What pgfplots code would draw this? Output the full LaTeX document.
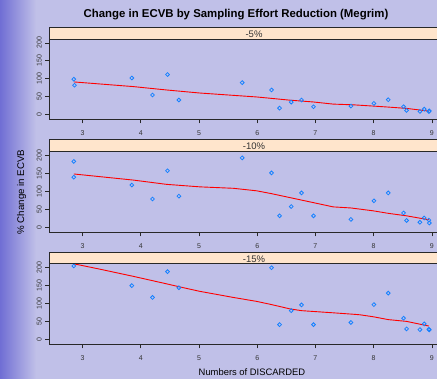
\documentclass[border=0pt]{standalone}
\usepackage{pgfplots}
\usepackage{pgfplotstable}
\pgfplotsset{compat=1.18}
\usepackage{fontspec}
\setmainfont{Liberation Sans}
\definecolor{bgcol}{RGB}{192,192,232}
\definecolor{gradcol}{RGB}{112,110,212}
\definecolor{stripcol}{RGB}{255,229,204}
\definecolor{ptcol}{RGB}{20,128,255}
\definecolor{framecol}{RGB}{40,40,40}

\pgfplotstableread{
x y
2.851 98.6
2.863 81.7
3.847 102
4.202 54.5
4.460 111.7
4.655 40.4
5.742 89
6.246 68.5
6.384 17.8
6.584 34.7
6.761 40.4
6.967 21.6
7.609 23.5
8.004 31
8.250 41.3
8.513 21.6
8.565 11.3
8.794 8.5
8.868 15
8.948 8.5
8.955 10
}\ptsA
\pgfplotstableread{
x y
2.851 184
2.851 140
3.847 118
4.202 79
4.460 158
4.655 87
5.742 194
6.246 152
6.384 32
6.584 58
6.761 96
6.967 32
7.609 22
8.004 74
8.250 96
8.513 40
8.565 19
8.794 14
8.868 26
8.948 20
8.955 12
}\ptsB
\pgfplotstableread{
x y
2.851 205
3.847 150
4.202 117
4.460 189
4.655 144
6.246 200
6.384 41
6.584 80
6.761 96
6.967 41
7.609 47
8.004 97
8.250 129
8.513 59
8.565 29
8.794 27
8.868 43
8.948 28
8.955 26
}\ptsC
\pgfplotstableread{
x y
2.851 91
3.870 78
4.443 68.5
5.015 60
5.588 53.5
5.988 49
6.246 45
6.561 40
6.962 35
7.305 29
7.649 27
7.992 23.5
8.250 20.7
8.565 17
8.948 9.4
}\lineA
\pgfplotstableread{
x y
2.851 149
3.870 132
4.443 120
5.015 113
5.588 109
5.988 102
6.246 94
6.561 83
6.962 69
7.305 57
7.609 54
7.992 46
8.250 39
8.565 32
8.948 21
}\lineB
\pgfplotstableread{
x y
2.851 211
3.298 196
3.870 176
4.443 155
4.655 147
5.015 134
5.588 117
5.988 106
6.246 97
6.561 85
6.761 80
7.305 74
7.649 70
7.763 68.5
7.992 63
8.250 55
8.565 50
8.948 37
}\lineC

\pgfplotsset{
  panel/.style={
    scale only axis,
    width=409.4pt, height=80.5pt,
    anchor=south west,
    xmin=2.43, xmax=9.46,
    ymin=-14, ymax=211,
    axis background/.style={fill=bgcol},
    axis line style={framecol, line width=0.8pt},
    xtick={3,4,5,6,7,8,9},
    ytick={0,50,100,150,200},
    xtick pos=bottom, ytick pos=left,
    tick align=outside,
    major tick length=4pt,
    tick style={framecol, line width=0.7pt},
    /pgf/number format/assume math mode=true,
    ticklabel style={font=\fontsize{7}{8}\selectfont, text=black!80},
    yticklabel style={rotate=90, anchor=south},
    xticklabel style={yshift=-4pt},
  },
  pts/.style={only marks, mark=o, mark size=1.9pt, draw=ptcol, mark options={line width=0.8pt, draw=ptcol}},
  fit/.style={no marks, red, line width=0.9pt},
}

\begin{document}
\begin{tikzpicture}
\useasboundingbox (0pt,0pt) rectangle (437pt,379pt);
\clip (0pt,0pt) rectangle (437pt,379pt);
\fill[bgcol] (0pt,0pt) rectangle (437pt,379pt);
\shade[left color=gradcol, right color=bgcol] (0pt,0pt) rectangle (36pt,379pt);
\node[font=\bfseries\fontsize{11.4}{13}\selectfont] at (236pt,364pt) {Change in ECVB by Sampling Effort Reduction (Megrim)};

% panel 1
\begin{axis}[panel, at={(49.3pt,259.5pt)}]
\addplot[pts] table {\ptsA};
\addplot[fit] table {\lineA};
\end{axis}
\draw[fill=stripcol, draw=framecol, line width=0.8pt] (49.3pt,340pt) rectangle (458.7pt,351.5pt);
\node[font=\fontsize{9.5}{10}\selectfont, text=black!80] at (254pt,344.8pt) {-5\%};

% panel 2
\begin{axis}[panel, at={(49.3pt,146.7pt)}]
\addplot[pts] table {\ptsB};
\addplot[fit] table {\lineB};
\end{axis}
\draw[fill=stripcol, draw=framecol, line width=0.8pt] (49.3pt,227.2pt) rectangle (458.7pt,240pt);
\node[font=\fontsize{9.5}{10}\selectfont, text=black!80] at (254pt,232.6pt) {-10\%};

% panel 3
\begin{axis}[panel, at={(49.3pt,34.7pt)}]
\addplot[pts] table {\ptsC};
\addplot[fit] table {\lineC};
\end{axis}
\draw[fill=stripcol, draw=framecol, line width=0.8pt] (49.3pt,115.2pt) rectangle (458.7pt,127pt);
\node[font=\fontsize{9.5}{10}\selectfont, text=black!80] at (254pt,120.2pt) {-15\%};

\node[font=\fontsize{9.7}{11}\selectfont, rotate=90] at (21.7pt,187pt) {\% Change in ECVB};
\node[font=\fontsize{9.4}{10}\selectfont] at (252pt,6.5pt) {Numbers of DISCARDED};
\end{tikzpicture}
\end{document}
